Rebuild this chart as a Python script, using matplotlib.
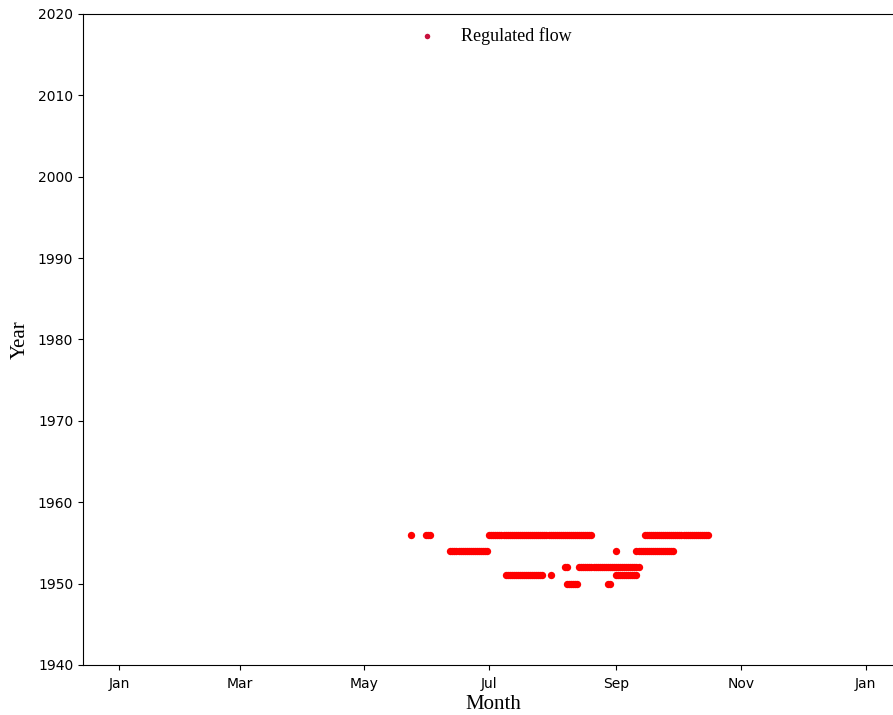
import matplotlib
matplotlib.use("Agg")
import matplotlib.pyplot as plt
import matplotlib.dates as mdates
import pandas as pd

# Runs of consecutive days with regulated flow: (year, first day, last day) as MM-DD
years = [1956, 1956, 1956, 1956,
         1954, 1954, 1954,
         1952, 1952,
         1951, 1951, 1951,
         1950, 1950]
run_starts = ["05-24", "05-31", "07-01", "09-15",
              "06-12", "09-01", "09-11",
              "08-07", "08-14",
              "07-09", "07-31", "09-01",
              "08-08", "08-28"]
run_ends = ["05-24", "06-02", "08-20", "10-16",
            "06-30", "09-01", "09-29",
            "08-08", "09-12",
            "07-27", "07-31", "09-11",
            "08-13", "08-29"]
series_label = "Regulated flow"
ref_year = 2001

xs, ys = [], []
for yr, s, e in zip(years, run_starts, run_ends):
    d = pd.date_range(f"{ref_year}-{s}", f"{ref_year}-{e}", freq="D")
    xs.extend(d)
    ys.extend([yr] * len(d))

fig = plt.figure(figsize=(8.93, 7.15), dpi=100)
ax = fig.add_axes([83 / 893, 50 / 715, 820 / 893, 651 / 715])

ax.scatter(xs, ys, s=28, color="red", marker="o", linewidths=0, label=series_label)

x0 = pd.Timestamp(f"{ref_year}-01-01")
x1 = pd.Timestamp(f"{ref_year + 1}-01-01")
ax.set_xlim(x0 - pd.Timedelta(days=17.6), x1 + pd.Timedelta(days=18.3))
ax.set_ylim(1940, 2020)
ax.set_yticks(range(1940, 2021, 10))
ax.xaxis.set_major_locator(mdates.MonthLocator(bymonth=[1, 3, 5, 7, 9, 11]))
ax.xaxis.set_major_formatter(mdates.DateFormatter("%b"))
ax.tick_params(labelsize=10)
ax.tick_params(axis="x", pad=5)

serif = ["Liberation Serif", "DejaVu Serif"]
ax.set_xlabel("Month", fontsize=15, family=serif, labelpad=3)
ax.set_ylabel("Year", fontsize=15, family=serif, labelpad=6)

leg = ax.legend(loc="upper center", frameon=False, markerscale=0.75,
                prop={"family": serif, "size": 13}, handletextpad=0.9,
                bbox_to_anchor=(0.497, 1.005))
for h in leg.legend_handles:
    h.set_color("#c8103c")

fig.savefig("out.png", dpi=100)
